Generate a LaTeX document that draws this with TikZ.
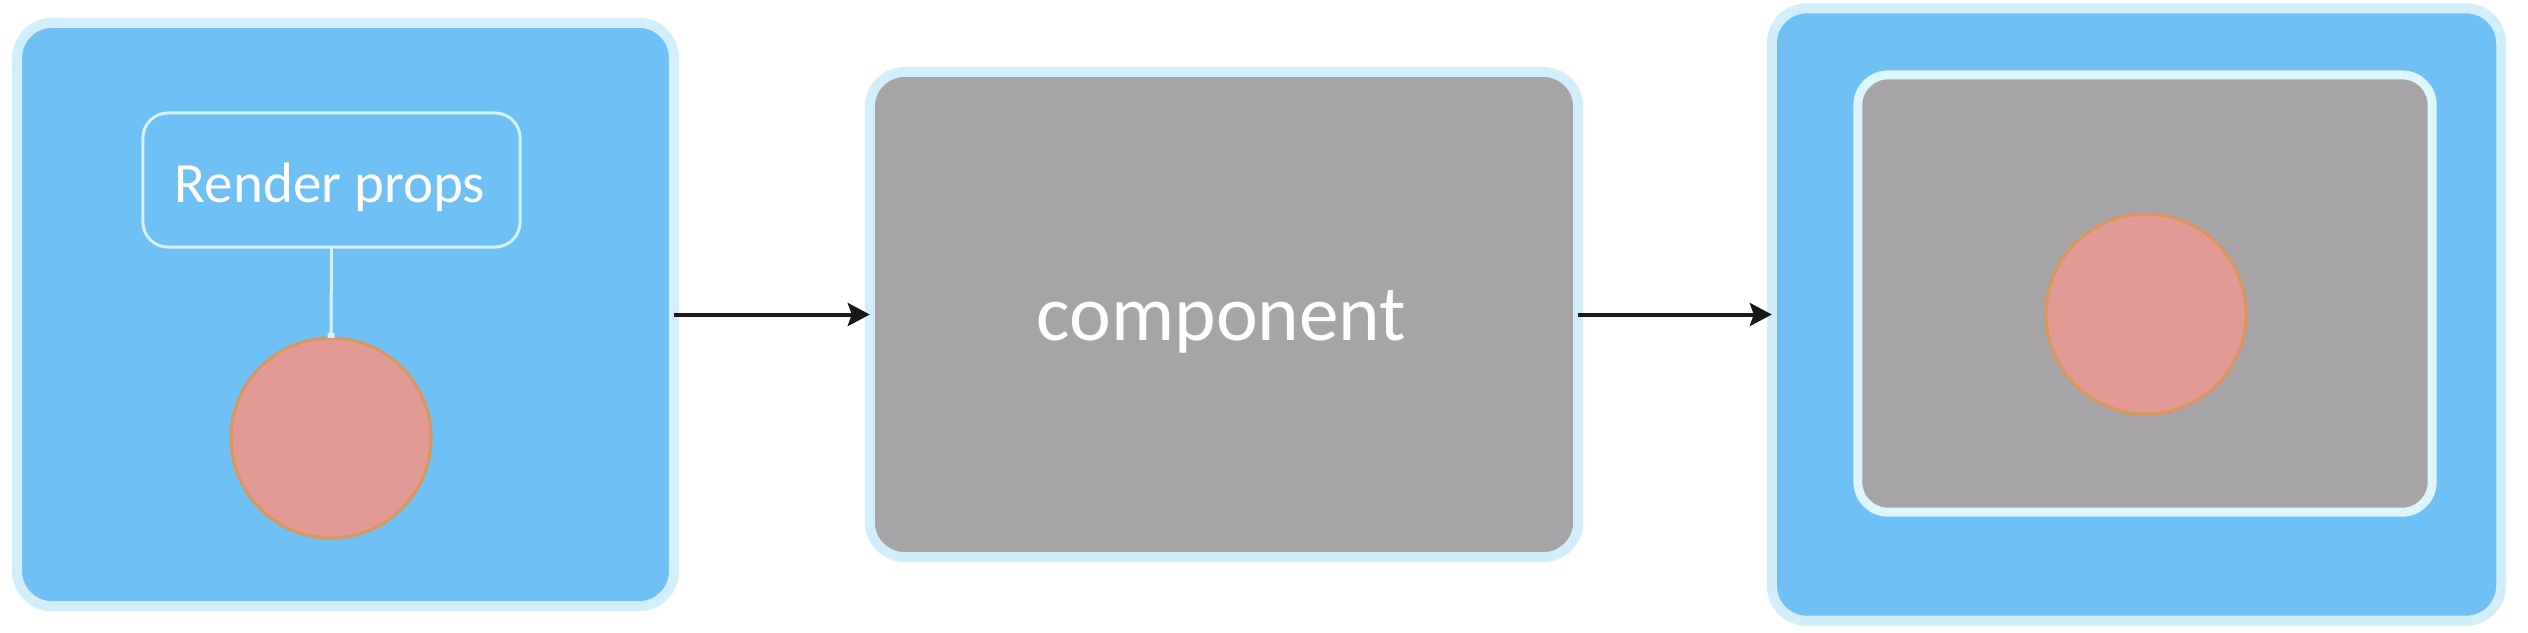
\documentclass[tikz,border=0pt]{standalone}
\usepackage{fontspec}
\setmainfont{Carlito}
\usetikzlibrary{arrows.meta}
\definecolor{bluefill}{HTML}{6FC0F5}
\definecolor{glow}{HTML}{D3EEFB}
\definecolor{innerglow}{HTML}{DDF5FD}
\definecolor{greyfill}{HTML}{A6A4A7}
\definecolor{ballfill}{HTML}{E29A94}
\definecolor{ballline}{HTML}{D9975C}
\definecolor{thinline}{HTML}{D6F1FC}
\tikzset{
  panel/.style={draw=glow, line width=0.1cm, rounded corners=0.35cm, outer sep=0pt, inner sep=0pt},
  bluepanel/.style={panel, fill=bluefill},
  greypanel/.style={panel, fill=greyfill},
  ball/.style={circle, fill=ballfill, draw=ballline, line width=0.03cm, minimum size=2cm, inner sep=0pt, outer sep=0pt},
  propbox/.style={draw=thinline, line width=0.03cm, rounded corners=0.25cm, outer sep=0pt, inner sep=0pt},
  flow/.style={line width=0.04cm, black!90, -{Stealth[length=0.22cm, width=0.23cm, inset=0.04cm]}},
  label/.style={text=white, inner sep=0pt, anchor=base},
}
\begin{document}
\begin{tikzpicture}[x=0.01cm, y=-0.01cm]
\useasboundingbox[fill=white] (0,0) rectangle (2528,632);
% left panel
\node[bluepanel, minimum width=6.565cm, minimum height=5.83cm] (b1) at (345.5,314.5) {};
\node[propbox, minimum width=3.77cm, minimum height=1.34cm] (rp) at (331.5,180) {};
\node[label, font=\fontsize{16.2}{18}\selectfont] (rptext) at (330,202) {Render props};
\node[ball] (c1) at (331,438) {};
\draw[thinline, line width=0.03cm, -{Square[length=0.05cm, width=0.07cm]}] (rp.south) -- (c1.north);
% middle panel
\node[greypanel, minimum width=7.08cm, minimum height=4.85cm] (b2) at (1224,314.5) {};
\node[label, font=\fontsize{22.5}{26}\selectfont] (comp) at (1221.5,340) {component};
% right panel
\node[bluepanel, minimum width=7.29cm, minimum height=6.12cm] (b3) at (2136.5,314.5) {};
\node[greypanel, draw=innerglow, line width=0.09cm, rounded corners=0.3cm, minimum width=5.74cm, minimum height=4.37cm] (b3in) at (2145,293.5) {};
\node[ball] (c3) at (2146,314) {};
% connectors
\draw[flow] (b1.east) -- (b2.west);
\draw[flow] (b2.east) -- (b3.west);
\end{tikzpicture}
\end{document}
